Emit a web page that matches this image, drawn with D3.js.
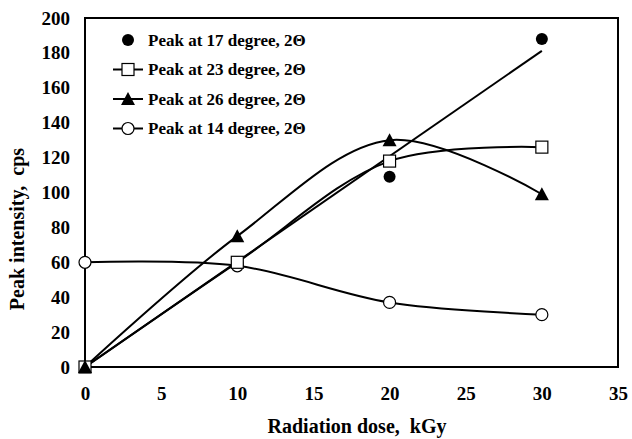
<!DOCTYPE html>
<html>
<head>
<meta charset="utf-8">
<script src="https://cdn.jsdelivr.net/npm/d3@7"></script>
<style>
  body { margin: 0; background: #fff; }
  text { font-family: "Liberation Serif", "Times New Roman", serif; font-weight: bold; fill: #000; white-space: pre; }
</style>
</head>
<body>
<div id="chart"></div>
<script>
// dose values (kGy)
const dose = [0, 10, 20, 30];

// peak intensities (cps)
const peak17 = [0, 60, 109, 188];
const peak23 = [0, 60, 118, 126];
const peak26 = [0, 75, 130, 99];
const peak14 = [60, 58, 37, 30];

const xTicks = [0, 5, 10, 15, 20, 25, 30, 35];
const yTicks = [0, 20, 40, 60, 80, 100, 120, 140, 160, 180, 200];

const legendLabels = [
    'Peak at 17 degree, 2\u0398',
    'Peak at 23 degree, 2\u0398',
    'Peak at 26 degree, 2\u0398',
    'Peak at 14 degree, 2\u0398'
];

const W = 632, H = 439;
const margin = { top: 18, right: 14, bottom: 72, left: 85 };
const width = W - margin.left - margin.right;
const height = H - margin.top - margin.bottom;

const svg = d3.select('#chart').append('svg')
    .attr('width', W)
    .attr('height', H);

const xScale = d3.scaleLinear().domain([0, 35]).range([0, width]);
const yScale = d3.scaleLinear().domain([0, 200]).range([height, 0]);

const chart = svg.append('g')
    .attr('transform', `translate(${margin.left}, ${margin.top})`);

// axes (labels only, no tick marks)
const xAxisGroup = chart.append('g')
    .attr('transform', `translate(0, ${height})`)
    .call(d3.axisBottom(xScale).tickValues(xTicks).tickSize(0).tickPadding(20));
const yAxisGroup = chart.append('g')
    .call(d3.axisLeft(yScale).tickValues(yTicks).tickSize(0).tickPadding(15));
[xAxisGroup, yAxisGroup].forEach(g => {
    g.select('.domain').remove();
    g.selectAll('text')
        .style('font-family', '"Liberation Serif", serif')
        .style('font-weight', 'bold')
        .style('font-size', '19px');
});

// plot frame
chart.append('rect')
    .attr('width', width)
    .attr('height', height)
    .attr('fill', 'none')
    .attr('stroke', '#000')
    .attr('stroke-width', 2);

const pts = vals => dose.map((d, i) => [d, vals[i]]);

const smooth = d3.line()
    .x(d => xScale(d[0]))
    .y(d => yScale(d[1]))
    .curve(d3.curveCatmullRom.alpha(0.5));

// linear trend for the 17 degree peak
const n = dose.length;
const mx = d3.mean(dose), my = d3.mean(peak17);
const slope = d3.sum(dose, (d, i) => (d - mx) * (peak17[i] - my)) / d3.sum(dose, d => (d - mx) * (d - mx));
const icpt = my - slope * mx;
chart.append('line')
    .attr('x1', xScale(dose[0])).attr('y1', yScale(Math.max(0, icpt + slope * dose[0])))
    .attr('x2', xScale(dose[n - 1])).attr('y2', yScale(icpt + slope * dose[n - 1]))
    .attr('stroke', '#000').attr('stroke-width', 2);

// smoothed series lines
[peak23, peak26, peak14].forEach(vals => {
    chart.append('path')
        .attr('d', smooth(pts(vals)))
        .attr('fill', 'none')
        .attr('stroke', '#000')
        .attr('stroke-width', 2);
});

// marker drawers
function marker(g, type, cx, cy) {
    if (type === 'fcircle') {
        g.append('circle').attr('cx', cx).attr('cy', cy).attr('r', 6).attr('fill', '#000');
    } else if (type === 'ocircle') {
        g.append('circle').attr('cx', cx).attr('cy', cy).attr('r', 6)
            .attr('fill', '#fff').attr('stroke', '#000').attr('stroke-width', 1.2);
    } else if (type === 'square') {
        g.append('rect').attr('x', cx - 6).attr('y', cy - 6).attr('width', 12).attr('height', 12)
            .attr('fill', '#fff').attr('stroke', '#000').attr('stroke-width', 1.2);
    } else if (type === 'triangle') {
        g.append('path')
            .attr('d', `M${cx},${cy - 7}L${cx + 7},${cy + 6}L${cx - 7},${cy + 6}Z`)
            .attr('fill', '#000');
    }
}

const series = [
    { vals: peak17, type: 'fcircle' },
    { vals: peak14, type: 'ocircle' },
    { vals: peak23, type: 'square' },
    { vals: peak26, type: 'triangle' }
];
series.forEach(s => {
    dose.forEach((d, i) => marker(chart, s.type, xScale(d), yScale(s.vals[i])));
});

// legend
const legendTypes = ['fcircle', 'square', 'triangle', 'ocircle'];
const legend = svg.append('g').attr('transform', 'translate(113, 40)');
legendTypes.forEach((t, i) => {
    const row = legend.append('g').attr('transform', `translate(0, ${i * 29.5})`);
    if (t !== 'fcircle') {
        row.append('line').attr('x1', 0).attr('x2', 30).attr('y1', 0).attr('y2', 0)
            .attr('stroke', '#000').attr('stroke-width', 2);
    }
    marker(row, t, 15, 0);
    row.append('text')
        .attr('x', 35)
        .attr('y', 0)
        .attr('dy', '0.35em')
        .style('font-size', '17px')
        .text(legendLabels[i]);
});

// axis titles
svg.append('text')
    .attr('text-anchor', 'middle')
    .attr('x', 357)
    .attr('y', 433)
    .style('font-size', '20px')
    .text('Radiation dose,  kGy');

svg.append('text')
    .attr('text-anchor', 'middle')
    .attr('transform', 'rotate(-90)')
    .attr('x', -229)
    .attr('y', 24)
    .style('font-size', '20px')
    .text('Peak intensity,  cps');
</script>
</body>
</html>
